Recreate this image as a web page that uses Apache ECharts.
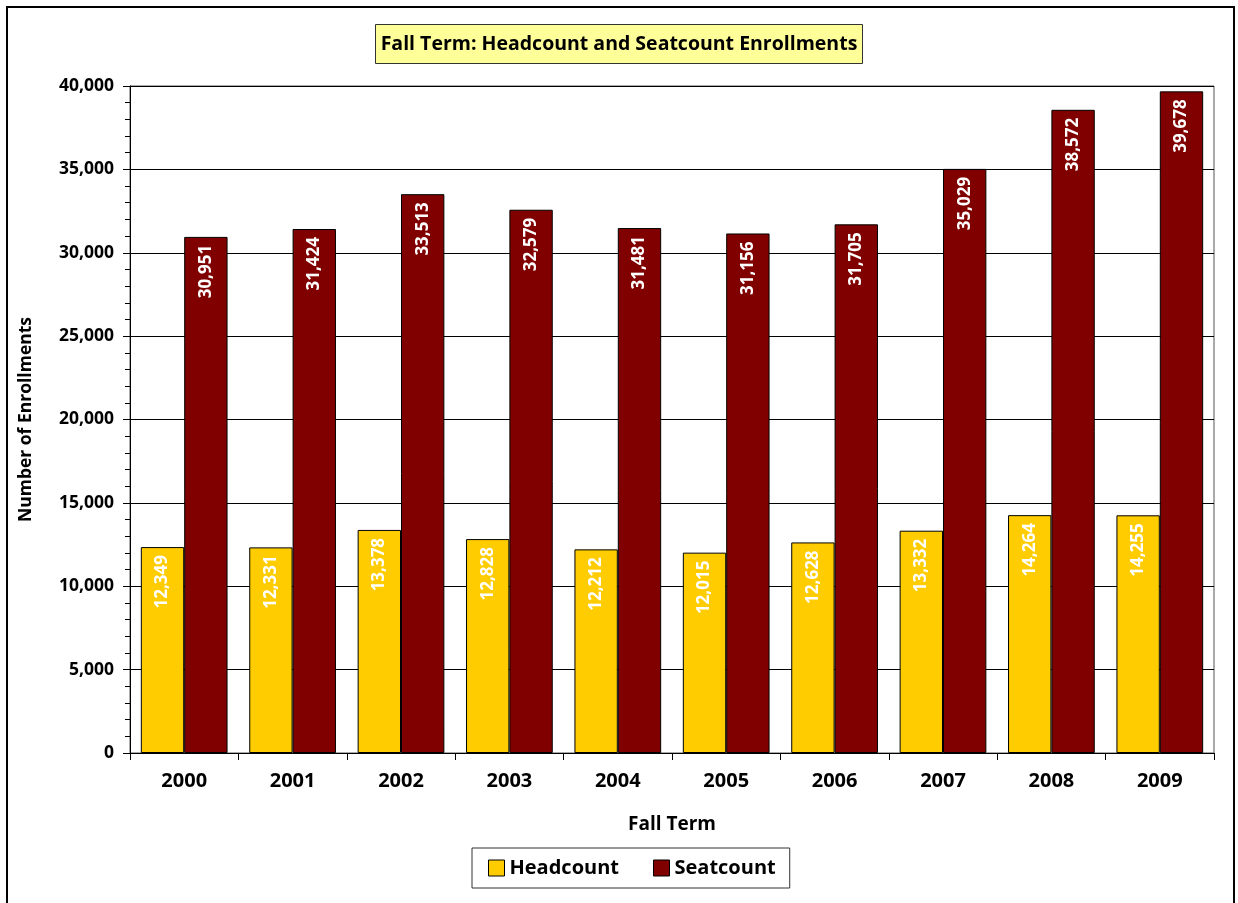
<!DOCTYPE html>
<html>
<head>
<meta charset="utf-8">
<script src="https://cdn.jsdelivr.net/npm/echarts@6/dist/echarts.min.js"></script>
<style>
  html, body { margin: 0; padding: 0; background: #fff; }
  #chart { width: 1238px; height: 903px; }
</style>
</head>
<body>
<div id="chart"></div>
<script>
const years = ['2000', '2001', '2002', '2003', '2004', '2005', '2006', '2007', '2008', '2009'];
const headcount = [12349, 12331, 13378, 12828, 12212, 12015, 12628, 13332, 14264, 14255];
const seatcount = [30951, 31424, 33513, 32579, 31481, 31156, 31705, 35029, 38572, 39678];

const font = '"Open Sans", "Noto Sans", sans-serif';

const barLabel = {
  show: true,
  position: 'insideTop',
  rotate: 90,
  align: 'right',
  verticalAlign: 'middle',
  distance: 8,
  color: '#fff',
  fontFamily: font,
  fontWeight: 'bold',
  fontSize: 17,
  formatter: (p) => p.value.toLocaleString('en-US'),
};

const chart = echarts.init(document.getElementById('chart'));
chart.setOption({
  animation: false,
  textStyle: { fontFamily: font },
  graphic: [
    {
      type: 'rect',
      shape: { x: 7, y: 7, width: 1227, height: 920 },
      style: { fill: 'none', stroke: '#000', lineWidth: 2 },
      silent: true,
    },
  ],
  title: {
    text: 'Fall Term: Headcount and Seatcount Enrollments',
    left: 'center',
    top: 24,
    backgroundColor: '#FFFF99',
    borderColor: '#333',
    borderWidth: 1,
    padding: [10, 5, 10, 5],
    textStyle: { fontFamily: font, fontWeight: 'bold', fontSize: 19.5, color: '#000' },
  },
  legend: {
    bottom: 15,
    left: 472,
    icon: 'rect',
    itemWidth: 16,
    itemHeight: 16,
    itemGap: 34,
    padding: [10, 14, 10, 16],
    borderColor: '#333',
    borderWidth: 1,
    itemStyle: { borderColor: '#000', borderWidth: 1 },
    textStyle: { fontFamily: font, fontWeight: 'bold', fontSize: 20, color: '#000' },
    data: ['Headcount', 'Seatcount'],
  },
  grid: {
    left: 130,
    right: 24,
    top: 86,
    bottom: 150,
    show: true,
    borderColor: '#555',
    borderWidth: 1,
  },
  xAxis: {
    type: 'category',
    data: years,
    name: 'Fall Term',
    nameLocation: 'middle',
    nameGap: 62,
    nameTextStyle: { fontFamily: font, fontWeight: 'bold', fontSize: 19, color: '#000' },
    axisLine: { lineStyle: { color: '#000', width: 1 } },
    axisTick: { show: true, length: 7, lineStyle: { color: '#000' } },
    axisLabel: { fontFamily: font, fontWeight: 'bold', fontSize: 20, color: '#000', margin: 18 },
  },
  yAxis: {
    type: 'value',
    min: 0,
    max: 40000,
    interval: 5000,
    name: 'Number of Enrollments',
    nameLocation: 'middle',
    nameGap: 95,
    nameTextStyle: { fontFamily: font, fontWeight: 'bold', fontSize: 17.5, color: '#000' },
    axisLine: { show: true, lineStyle: { color: '#000', width: 1 } },
    axisTick: { show: true, length: 7, lineStyle: { color: '#000' } },
    minorTick: { show: true, splitNumber: 5, length: 5, lineStyle: { color: '#000' } },
    splitLine: { show: true, lineStyle: { color: '#000', width: 1 } },
    axisLabel: {
      fontFamily: font,
      fontWeight: 'bold',
      fontSize: 17.5,
      color: '#000',
      margin: 16,
      formatter: (v) => v.toLocaleString('en-US'),
    },
  },
  series: [
    {
      name: 'Headcount',
      type: 'bar',
      data: headcount,
      barGap: '0%',
      barCategoryGap: '20%',
      itemStyle: { color: '#FFCC00', borderColor: '#000', borderWidth: 1 },
      label: barLabel,
    },
    {
      name: 'Seatcount',
      type: 'bar',
      data: seatcount,
      barGap: '0%',
      barCategoryGap: '20%',
      itemStyle: { color: '#800000', borderColor: '#000', borderWidth: 1 },
      label: barLabel,
    },
  ],
});
</script>
</body>
</html>
